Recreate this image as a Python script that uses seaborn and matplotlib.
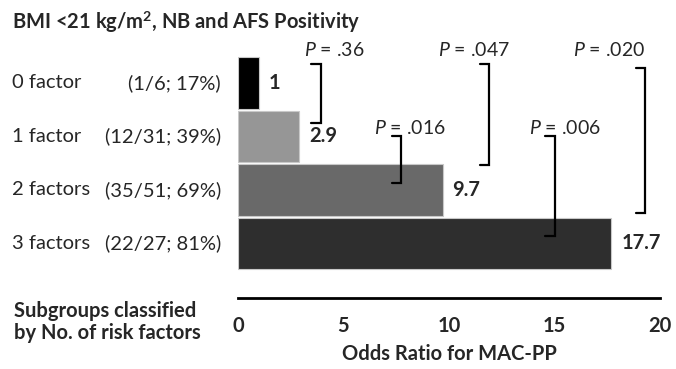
import matplotlib
matplotlib.use("Agg")
import matplotlib.pyplot as plt
import matplotlib.transforms as mtransforms
import seaborn as sns
import pandas as pd

# ---- data ----
factors = ["0 factor", "1 factor", "2 factors", "3 factors"]
counts = ["(1/6; 17%)", "(12/31; 39%)", "(35/51; 69%)", "(22/27; 81%)"]
odds_ratio = [1.0, 2.9, 9.7, 17.7]
value_labels = ["1", "2.9", "9.7", "17.7"]
bar_colors = ["#000000", "#969696", "#696969", "#2e2e2e"]
xticks = [0, 5, 10, 15, 20]

# brackets: p-value label, x of vertical line, y top, y bottom (data units), text x, text y
p_labels = [".36", ".047", ".020", ".016", ".006"]
br_x = [3.93, 11.9, 19.29, 7.73, 15.02]
br_y0 = [-0.36, -0.36, -0.28, 0.99, 0.99]
br_y1 = [0.75, 1.53, 2.43, 1.87, 2.86]
txt_x = [4.55, 11.2, 17.6, 8.15, 15.5]
txt_y = [-0.62, -0.62, -0.62, 0.84, 0.84]

FS = 14.5
sns.set_style("white")
plt.rcParams["font.family"] = ["Lato", "DejaVu Sans"]
plt.rcParams["mathtext.fontset"] = "custom"
plt.rcParams["mathtext.rm"] = "Lato"
plt.rcParams["mathtext.it"] = "Lato:italic"
plt.rcParams["mathtext.bf"] = "Lato:bold"

fig = plt.figure(figsize=(6.76, 3.69), dpi=100)
ax = fig.add_axes([238/676, 71/369, (660-238)/676, (298-40)/369])

df = pd.DataFrame({"factor": factors, "or": odds_ratio})
sns.barplot(data=df, x="or", y="factor", hue="factor", palette=bar_colors,
            width=0.96, legend=False, ax=ax, edgecolor="#c8c8c8", linewidth=0.8,
            orient="h")

ax.set_xlim(0, 20)
ax.set_ylim(4.02, -0.804)
ax.set_xticks(xticks)
ax.set_xticklabels([str(t) for t in xticks], fontweight="bold", fontsize=FS)
ax.set_yticks([])
ax.set_ylabel("")
ax.set_xlabel("Odds Ratio for MAC-PP", fontweight="bold", fontsize=FS, labelpad=6)
for s in ["top", "right", "left"]:
    ax.spines[s].set_visible(False)
ax.spines["bottom"].set_linewidth(2)
ax.spines["bottom"].set_color("black")
ax.tick_params(axis="x", direction="out", length=8.6, width=2, color="black", pad=4)

# value labels
for i, (v, lab) in enumerate(zip(odds_ratio, value_labels)):
    ax.text(v + 0.47, i, lab, va="center", ha="left", fontweight="bold", fontsize=FS)

# row labels
blend = mtransforms.blended_transform_factory(fig.transFigure, ax.transData)
for i, (f, c) in enumerate(zip(factors, counts)):
    ax.text(12/676, i, f, transform=blend, ha="left", va="center", fontsize=FS)
    ax.text(221/676, i, c, transform=blend, ha="right", va="center", fontsize=FS)

# brackets
arm = 0.45
for p, x, y0, y1, tx, ty in zip(p_labels, br_x, br_y0, br_y1, txt_x, txt_y):
    ax.plot([x - arm, x, x, x - arm], [y0, y0, y1, y1], color="black", lw=1.6,
            solid_joinstyle="miter", clip_on=False)
    ax.text(tx, ty, r"$\mathit{P}$ = " + p, ha="center", va="center", fontsize=14)

fig.text(12/676, 1 - 22/369, r"BMI <21 kg/m$^{\mathbf{2}}$, NB and AFS Positivity",
         ha="left", va="center", fontweight="bold", fontsize=FS)
fig.text(14/676, 1 - 317/369, "Subgroups classified", ha="left", va="baseline",
         fontweight="bold", fontsize=FS)
fig.text(14/676, 1 - 339/369, "by No. of risk factors", ha="left", va="baseline",
         fontweight="bold", fontsize=FS)

fig.savefig("out.png", dpi=100)
